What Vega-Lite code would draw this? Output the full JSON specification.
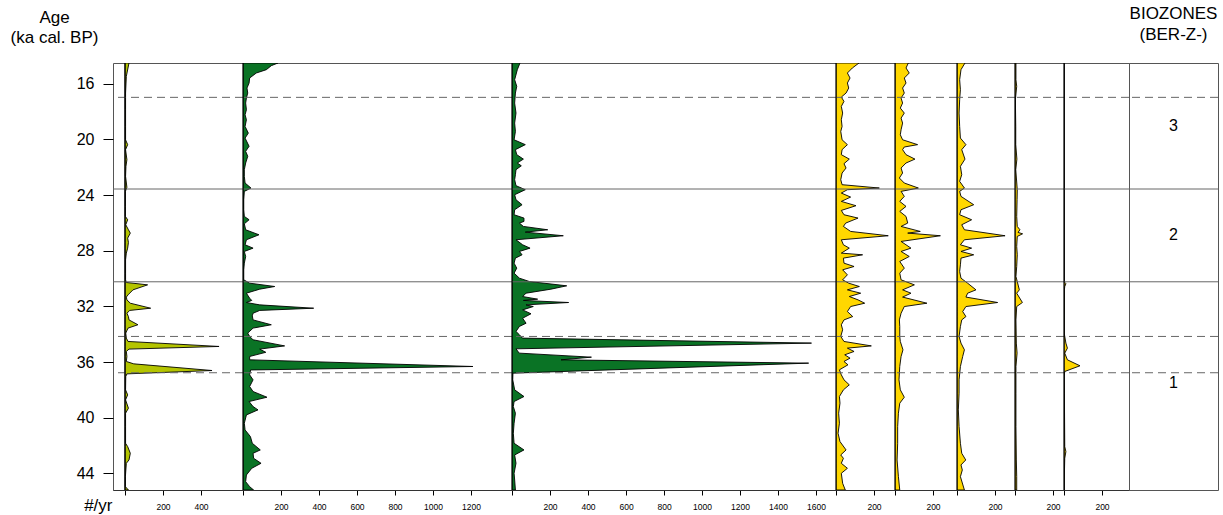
{
 "$schema": "https://vega.github.io/schema/vega-lite/v6.json",
 "padding": {"left": 9, "top": 4, "right": 5, "bottom": 25},
 "background": "white",
 "bounds": "flush",
 "spacing": 0,
 "config": {
  "font": "Liberation Sans",
  "view": {"stroke": "#555", "strokeWidth": 1},
  "axis": {"grid": false, "labelColor": "black", "tickColor": "black", "titleColor": "black", "titleFontWeight": "normal", "labelFont": "Liberation Sans", "titleFont": "Liberation Sans"},
  "title": {"font": "Liberation Sans", "fontWeight": "normal", "color": "black"}
 },
 "resolve": {"scale": {"x": "independent", "y": "independent", "strokeDash": "independent"}},
 "datasets": {
  "zones": [{"age":16.97,"kind":"dashed"},{"age":23.56,"kind":"solid"},{"age":30.23,"kind":"solid"},{"age":34.16,"kind":"dashed"},{"age":36.77,"kind":"dashed"}],
  "bz": [{"age":19.03,"zone":"3"},{"age":26.9,"zone":"2"},{"age":37.5,"zone":"1"}],
  "p1": [{"age":14.5,"v":21},{"age":15.46,"v":7},{"age":16.66,"v":3},{"age":17.86,"v":3},{"age":19.06,"v":3},{"age":20.02,"v":3},{"age":20.37,"v":14},{"age":20.73,"v":3},{"age":21.45,"v":10},{"age":21.93,"v":5},{"age":22.65,"v":3},{"age":23.44,"v":10},{"age":23.73,"v":2},{"age":24.81,"v":2},{"age":25.53,"v":2},{"age":25.77,"v":14},{"age":26.13,"v":4},{"age":26.49,"v":18},{"age":26.73,"v":28},{"age":27.09,"v":14},{"age":27.4,"v":18},{"age":27.81,"v":14},{"age":28.17,"v":7},{"age":28.65,"v":3},{"age":29.61,"v":3},{"age":30.09,"v":3},{"age":30.28,"v":7},{"age":30.45,"v":119},{"age":30.81,"v":42},{"age":31.17,"v":16},{"age":31.33,"v":7},{"age":31.53,"v":10},{"age":31.77,"v":28},{"age":32.13,"v":135},{"age":32.29,"v":25},{"age":32.49,"v":10},{"age":32.73,"v":18},{"age":32.97,"v":21},{"age":33.32,"v":68},{"age":33.56,"v":16},{"age":33.92,"v":4},{"age":34.28,"v":7},{"age":34.52,"v":16},{"age":34.88,"v":495},{"age":35.07,"v":21},{"age":35.24,"v":7},{"age":35.6,"v":10},{"age":35.96,"v":7},{"age":36.13,"v":46},{"age":36.61,"v":458},{"age":36.85,"v":10},{"age":37.04,"v":4},{"age":38.0,"v":3},{"age":38.36,"v":14},{"age":38.72,"v":3},{"age":39.32,"v":18},{"age":39.68,"v":3},{"age":40.64,"v":3},{"age":41.84,"v":3},{"age":42.08,"v":14},{"age":42.56,"v":28},{"age":43.04,"v":21},{"age":43.28,"v":7},{"age":44.24,"v":2},{"age":44.96,"v":2},{"age":45.2,"v":18}],
  "p2": [{"age":14.5,"v":184},{"age":14.69,"v":149},{"age":14.98,"v":123},{"age":15.22,"v":70},{"age":15.58,"v":35},{"age":15.94,"v":32},{"age":16.3,"v":21},{"age":16.66,"v":25},{"age":17.02,"v":18},{"age":17.38,"v":14},{"age":17.86,"v":18},{"age":18.22,"v":11},{"age":18.58,"v":18},{"age":19.06,"v":11},{"age":19.54,"v":28},{"age":19.9,"v":11},{"age":20.49,"v":32},{"age":20.85,"v":14},{"age":21.21,"v":25},{"age":21.69,"v":14},{"age":22.17,"v":7},{"age":22.65,"v":7},{"age":23.13,"v":11},{"age":23.49,"v":42},{"age":23.73,"v":7},{"age":24.33,"v":4},{"age":25.05,"v":4},{"age":25.53,"v":7},{"age":25.77,"v":32},{"age":26.06,"v":7},{"age":26.49,"v":14},{"age":26.85,"v":84},{"age":27.21,"v":18},{"age":27.57,"v":11},{"age":27.81,"v":53},{"age":28.05,"v":7},{"age":28.41,"v":14},{"age":28.89,"v":7},{"age":29.37,"v":4},{"age":30.09,"v":4},{"age":30.33,"v":35},{"age":30.57,"v":167},{"age":30.76,"v":88},{"age":31.05,"v":18},{"age":31.41,"v":35},{"age":31.57,"v":46},{"age":31.72,"v":18},{"age":31.89,"v":88},{"age":32.13,"v":372},{"age":32.29,"v":88},{"age":32.49,"v":53},{"age":32.68,"v":49},{"age":32.97,"v":53},{"age":33.32,"v":149},{"age":33.56,"v":53},{"age":33.92,"v":25},{"age":34.16,"v":35},{"age":34.4,"v":53},{"age":34.84,"v":219},{"age":35.07,"v":88},{"age":35.3,"v":120},{"age":35.6,"v":35},{"age":35.84,"v":35},{"age":36.32,"v":1210},{"age":36.57,"v":40},{"age":36.92,"v":35},{"age":37.28,"v":53},{"age":37.76,"v":35},{"age":38.12,"v":53},{"age":38.53,"v":126},{"age":38.84,"v":32},{"age":39.2,"v":53},{"age":39.44,"v":79},{"age":39.8,"v":18},{"age":40.4,"v":7},{"age":40.88,"v":11},{"age":41.36,"v":39},{"age":41.84,"v":49},{"age":42.32,"v":91},{"age":42.56,"v":53},{"age":42.92,"v":56},{"age":43.28,"v":95},{"age":43.64,"v":46},{"age":44.12,"v":18},{"age":44.6,"v":14},{"age":44.96,"v":35},{"age":45.2,"v":56}],
  "p3": [{"age":14.5,"v":42},{"age":14.98,"v":28},{"age":15.7,"v":14},{"age":16.18,"v":25},{"age":16.66,"v":18},{"age":17.38,"v":14},{"age":18.1,"v":21},{"age":18.82,"v":14},{"age":19.42,"v":18},{"age":20.02,"v":11},{"age":20.37,"v":70},{"age":20.73,"v":18},{"age":21.09,"v":25},{"age":21.41,"v":60},{"age":21.69,"v":28},{"age":21.89,"v":49},{"age":22.17,"v":21},{"age":22.53,"v":18},{"age":22.89,"v":14},{"age":23.32,"v":21},{"age":23.61,"v":70},{"age":23.97,"v":14},{"age":24.33,"v":21},{"age":24.69,"v":53},{"age":25.05,"v":14},{"age":25.41,"v":11},{"age":25.65,"v":63},{"age":25.89,"v":63},{"age":26.01,"v":39},{"age":26.25,"v":60},{"age":26.49,"v":188},{"age":26.66,"v":70},{"age":26.92,"v":270},{"age":27.21,"v":21},{"age":27.57,"v":56},{"age":27.81,"v":95},{"age":28.05,"v":39},{"age":28.29,"v":53},{"age":28.53,"v":18},{"age":28.89,"v":11},{"age":29.25,"v":25},{"age":29.61,"v":11},{"age":29.97,"v":39},{"age":30.21,"v":91},{"age":30.52,"v":288},{"age":30.76,"v":205},{"age":31.05,"v":74},{"age":31.29,"v":56},{"age":31.48,"v":135},{"age":31.57,"v":60},{"age":31.72,"v":298},{"age":31.89,"v":74},{"age":32.01,"v":112},{"age":32.25,"v":56},{"age":32.53,"v":100},{"age":32.85,"v":56},{"age":33.21,"v":74},{"age":33.44,"v":39},{"age":33.8,"v":21},{"age":34.04,"v":39},{"age":34.28,"v":55},{"age":34.64,"v":1576},{"age":35.05,"v":21},{"age":35.36,"v":38},{"age":35.65,"v":418},{"age":35.84,"v":258},{"age":36.08,"v":1561},{"age":36.8,"v":5},{"age":37.28,"v":4},{"age":38.0,"v":14},{"age":38.48,"v":63},{"age":38.84,"v":11},{"age":39.2,"v":7},{"age":39.68,"v":18},{"age":40.4,"v":11},{"age":41.12,"v":7},{"age":41.84,"v":11},{"age":42.32,"v":63},{"age":42.68,"v":14},{"age":43.28,"v":21},{"age":44.0,"v":11},{"age":44.48,"v":14},{"age":45.2,"v":18}],
  "p4": [{"age":14.5,"v":121},{"age":14.86,"v":86},{"age":15.22,"v":60},{"age":15.58,"v":74},{"age":15.94,"v":60},{"age":16.3,"v":67},{"age":16.66,"v":53},{"age":16.95,"v":28},{"age":17.26,"v":42},{"age":17.62,"v":28},{"age":18.1,"v":35},{"age":18.58,"v":28},{"age":19.06,"v":32},{"age":19.42,"v":25},{"age":20.02,"v":32},{"age":20.37,"v":60},{"age":20.73,"v":32},{"age":21.09,"v":28},{"age":21.41,"v":70},{"age":21.74,"v":42},{"age":22.05,"v":53},{"age":22.41,"v":32},{"age":22.89,"v":25},{"age":23.25,"v":32},{"age":23.49,"v":228},{"age":23.61,"v":60},{"age":23.85,"v":28},{"age":24.14,"v":77},{"age":24.45,"v":28},{"age":24.76,"v":105},{"age":25.1,"v":28},{"age":25.41,"v":42},{"age":25.65,"v":116},{"age":26.01,"v":51},{"age":26.25,"v":39},{"age":26.61,"v":77},{"age":26.92,"v":275},{"age":27.21,"v":28},{"age":27.57,"v":39},{"age":27.81,"v":70},{"age":28.17,"v":28},{"age":28.29,"v":140},{"age":28.53,"v":39},{"age":28.89,"v":42},{"age":29.13,"v":95},{"age":29.37,"v":35},{"age":29.73,"v":60},{"age":30.09,"v":35},{"age":30.33,"v":67},{"age":30.57,"v":123},{"age":30.81,"v":60},{"age":31.05,"v":130},{"age":31.29,"v":70},{"age":31.53,"v":116},{"age":31.77,"v":151},{"age":32.01,"v":77},{"age":32.37,"v":60},{"age":32.73,"v":88},{"age":32.97,"v":42},{"age":33.32,"v":28},{"age":33.68,"v":35},{"age":34.16,"v":25},{"age":34.52,"v":42},{"age":34.84,"v":186},{"age":35.0,"v":60},{"age":35.24,"v":95},{"age":35.48,"v":46},{"age":35.72,"v":74},{"age":35.96,"v":42},{"age":36.2,"v":63},{"age":36.56,"v":18},{"age":36.92,"v":28},{"age":37.28,"v":42},{"age":37.64,"v":70},{"age":38.0,"v":39},{"age":38.48,"v":18},{"age":38.96,"v":21},{"age":39.68,"v":14},{"age":40.4,"v":18},{"age":41.12,"v":11},{"age":41.72,"v":21},{"age":42.32,"v":53},{"age":42.68,"v":25},{"age":42.92,"v":39},{"age":43.28,"v":28},{"age":43.64,"v":60},{"age":44.0,"v":28},{"age":44.72,"v":35},{"age":45.2,"v":49}],
  "p5": [{"age":14.5,"v":70},{"age":14.86,"v":58},{"age":15.22,"v":75},{"age":15.58,"v":49},{"age":15.94,"v":58},{"age":16.3,"v":40},{"age":16.66,"v":49},{"age":17.02,"v":32},{"age":17.38,"v":40},{"age":17.74,"v":28},{"age":18.1,"v":49},{"age":18.46,"v":32},{"age":18.82,"v":40},{"age":19.3,"v":32},{"age":19.66,"v":28},{"age":20.02,"v":40},{"age":20.37,"v":119},{"age":20.54,"v":49},{"age":20.73,"v":40},{"age":21.09,"v":58},{"age":21.41,"v":105},{"age":21.69,"v":58},{"age":22.05,"v":32},{"age":22.41,"v":40},{"age":22.77,"v":23},{"age":23.13,"v":49},{"age":23.49,"v":123},{"age":23.73,"v":32},{"age":24.09,"v":49},{"age":24.45,"v":25},{"age":24.81,"v":58},{"age":25.17,"v":25},{"age":25.53,"v":58},{"age":26.01,"v":67},{"age":26.25,"v":32},{"age":26.61,"v":133},{"age":26.73,"v":67},{"age":26.92,"v":239},{"age":27.33,"v":32},{"age":27.81,"v":84},{"age":28.05,"v":32},{"age":28.41,"v":75},{"age":28.77,"v":25},{"age":29.25,"v":49},{"age":29.61,"v":25},{"age":30.09,"v":32},{"age":30.45,"v":102},{"age":30.81,"v":40},{"age":31.05,"v":84},{"age":31.33,"v":40},{"age":31.77,"v":168},{"age":32.01,"v":49},{"age":32.49,"v":32},{"age":32.97,"v":23},{"age":33.44,"v":25},{"age":34.16,"v":25},{"age":34.52,"v":28},{"age":35.12,"v":42},{"age":35.6,"v":32},{"age":36.32,"v":25},{"age":37.28,"v":21},{"age":38.0,"v":28},{"age":38.53,"v":49},{"age":38.96,"v":25},{"age":39.68,"v":18},{"age":40.64,"v":14},{"age":41.84,"v":14},{"age":43.04,"v":11},{"age":44.24,"v":18},{"age":45.2,"v":25}],
  "p6": [{"age":14.5,"v":42},{"age":14.98,"v":21},{"age":15.7,"v":14},{"age":16.42,"v":18},{"age":17.14,"v":14},{"age":18.1,"v":11},{"age":19.06,"v":14},{"age":19.9,"v":18},{"age":20.37,"v":47},{"age":20.73,"v":25},{"age":21.41,"v":42},{"age":21.93,"v":18},{"age":22.53,"v":25},{"age":23.01,"v":14},{"age":23.49,"v":39},{"age":23.73,"v":14},{"age":24.09,"v":21},{"age":24.69,"v":88},{"age":25.05,"v":21},{"age":25.41,"v":14},{"age":25.77,"v":77},{"age":26.13,"v":25},{"age":26.49,"v":39},{"age":26.92,"v":253},{"age":27.21,"v":39},{"age":27.57,"v":18},{"age":27.81,"v":77},{"age":28.05,"v":21},{"age":28.29,"v":88},{"age":28.53,"v":21},{"age":29.01,"v":18},{"age":29.49,"v":14},{"age":29.97,"v":21},{"age":30.33,"v":56},{"age":30.81,"v":100},{"age":31.05,"v":56},{"age":31.33,"v":47},{"age":31.72,"v":214},{"age":32.01,"v":47},{"age":32.37,"v":30},{"age":32.73,"v":47},{"age":32.97,"v":25},{"age":33.44,"v":18},{"age":34.16,"v":11},{"age":34.64,"v":21},{"age":35.12,"v":39},{"age":35.6,"v":30},{"age":36.32,"v":18},{"age":37.28,"v":11},{"age":38.24,"v":11},{"age":39.44,"v":7},{"age":40.64,"v":11},{"age":41.84,"v":18},{"age":42.56,"v":25},{"age":43.04,"v":46},{"age":43.4,"v":21},{"age":43.76,"v":28},{"age":44.24,"v":18},{"age":45.2,"v":39}],
  "p7": [{"age":14.5,"v":5},{"age":15.7,"v":5},{"age":16.18,"v":9},{"age":17.14,"v":2},{"age":19.06,"v":4},{"age":20.37,"v":4},{"age":21.41,"v":10},{"age":22.17,"v":4},{"age":23.61,"v":12},{"age":24.33,"v":11},{"age":25.53,"v":9},{"age":26.25,"v":12},{"age":26.49,"v":26},{"age":26.68,"v":16},{"age":26.78,"v":40},{"age":26.97,"v":12},{"age":27.69,"v":9},{"age":28.29,"v":12},{"age":29.13,"v":9},{"age":29.85,"v":5},{"age":30.81,"v":23},{"age":31.05,"v":9},{"age":31.72,"v":39},{"age":32.01,"v":9},{"age":32.97,"v":5},{"age":34.64,"v":7},{"age":35.36,"v":11},{"age":36.32,"v":5},{"age":38.24,"v":5},{"age":40.64,"v":5},{"age":43.04,"v":7},{"age":44.24,"v":9},{"age":45.2,"v":9}],
  "p8": [{"age":14.5,"v":0},{"age":30.21,"v":0},{"age":30.37,"v":10},{"age":30.57,"v":4},{"age":30.81,"v":2},{"age":33.92,"v":1},{"age":34.64,"v":10},{"age":35.0,"v":18},{"age":35.36,"v":4},{"age":35.84,"v":18},{"age":36.27,"v":84},{"age":36.68,"v":4},{"age":37.04,"v":0},{"age":38.24,"v":2},{"age":42.08,"v":4},{"age":42.44,"v":10},{"age":42.92,"v":4},{"age":45.2,"v":0}]
 },
 "hconcat": [
  {
   "width": 130, "height": 427,
   "layer": [
    {"data": {"name": "p1"}, "mark": {"type": "area", "orient": "horizontal", "fill": "#b4c400", "stroke": "#000", "strokeWidth": 0.9, "clip": true},
     "encoding": {
      "y": {"field": "age", "type": "quantitative", "scale": {"domain": [14.5, 45.2], "reverse": true, "nice": false, "zero": false},
            "axis": {"values": [16,18,20,22,24,26,28,30,32,34,36,38,40,42,44], "labelExpr": "datum.value % 4 == 0 ? datum.label : ''", "tickSize": 10, "labelPadding": 9, "labelFontSize": 16, "domain": false,
                     "title": ["Age", "(ka cal. BP)"], "titleAngle": 0, "titleAlign": "center", "titleBaseline": "bottom", "titleX": -59, "titleY": -37, "titleFontSize": 17, "titleLineHeight": 20}},
      "x": {"field": "v", "type": "quantitative", "scale": {"domain": [-63.2, 621], "nice": false, "zero": false},
            "axis": {"values": [0,100,200,300,400,500], "format": "d", "labelExpr": "datum.value % 200 == 0 && datum.value > 0 ? datum.label : ''", "tickSize": 5, "labelPadding": 7, "labelFontSize": 8.5, "labelFlush": false, "labelOverlap": false, "labelBound": false, "domain": true, "domainColor": "#333",
                     "title": "#/yr", "titleFontSize": 17, "titleAlign": "right", "titleBaseline": "alphabetic", "titleAngle": 0, "titleX": -1, "titleY": 20}},
      "x2": {"datum": 0}
     }},
    {"data": {"name": "zones"}, "mark": {"type": "rule", "stroke": "#666", "strokeWidth": 1},
     "encoding": {"y": {"field": "age", "type": "quantitative", "scale": {"domain": [14.5, 45.2], "reverse": true, "nice": false, "zero": false}},
                  "strokeDash": {"field": "kind", "type": "nominal", "scale": {"domain": ["solid", "dashed"], "range": [[1, 0], [8, 5]]}, "legend": null}}},
    {"data": {"values": [{"b": 0}]}, "mark": {"type": "rule", "stroke": "#000", "strokeWidth": 1.2}, "encoding": {"x": {"datum": 0, "type": "quantitative"}}}
   ]
  },
  {
   "width": 269, "height": 427,
   "layer": [
    {"data": {"name": "p2"}, "mark": {"type": "area", "orient": "horizontal", "fill": "#0a7325", "stroke": "#000", "strokeWidth": 0.9, "clip": true},
     "encoding": {
      "y": {"field": "age", "type": "quantitative", "scale": {"domain": [14.5, 45.2], "reverse": true, "nice": false, "zero": false}, "axis": null},
      "x": {"field": "v", "type": "quantitative", "scale": {"domain": [0, 1415.8], "nice": false, "zero": false},
            "axis": {"values": [0,100,200,300,400,500,600,700,800,900,1000,1100,1200], "format": "d", "labelExpr": "datum.value % 200 == 0 && datum.value > 0 ? datum.label : ''", "tickSize": 5, "labelPadding": 7, "labelFontSize": 8.5, "labelFlush": false, "labelOverlap": false, "labelBound": false, "domain": true, "domainColor": "#333", "title": null}},
      "x2": {"datum": 0}
     }},
    {"data": {"name": "zones"}, "mark": {"type": "rule", "stroke": "#666", "strokeWidth": 1},
     "encoding": {"y": {"field": "age", "type": "quantitative", "scale": {"domain": [14.5, 45.2], "reverse": true, "nice": false, "zero": false}, "axis": null},
                  "strokeDash": {"field": "kind", "type": "nominal", "scale": {"domain": ["solid", "dashed"], "range": [[1, 0], [8, 5]]}, "legend": null}}},
    {"data": {"values": [{"b": 0}]}, "mark": {"type": "rule", "stroke": "#000", "strokeWidth": 1.2}, "encoding": {"x": {"datum": 0, "type": "quantitative"}}}
   ]
  },
  {
   "width": 324, "height": 427,
   "layer": [
    {"data": {"name": "p3"}, "mark": {"type": "area", "orient": "horizontal", "fill": "#0a7325", "stroke": "#000", "strokeWidth": 0.9, "clip": true},
     "encoding": {
      "y": {"field": "age", "type": "quantitative", "scale": {"domain": [14.5, 45.2], "reverse": true, "nice": false, "zero": false}, "axis": null},
      "x": {"field": "v", "type": "quantitative", "scale": {"domain": [0, 1705], "nice": false, "zero": false},
            "axis": {"values": [0,100,200,300,400,500,600,700,800,900,1000,1100,1200,1300,1400,1500,1600], "format": "d", "labelExpr": "datum.value % 200 == 0 && datum.value > 0 ? datum.label : ''", "tickSize": 5, "labelPadding": 7, "labelFontSize": 8.5, "labelFlush": false, "labelOverlap": false, "labelBound": false, "domain": true, "domainColor": "#333", "title": null}},
      "x2": {"datum": 0}
     }},
    {"data": {"name": "zones"}, "mark": {"type": "rule", "stroke": "#666", "strokeWidth": 1},
     "encoding": {"y": {"field": "age", "type": "quantitative", "scale": {"domain": [14.5, 45.2], "reverse": true, "nice": false, "zero": false}, "axis": null},
                  "strokeDash": {"field": "kind", "type": "nominal", "scale": {"domain": ["solid", "dashed"], "range": [[1, 0], [8, 5]]}, "legend": null}}},
    {"data": {"values": [{"b": 0}]}, "mark": {"type": "rule", "stroke": "#000", "strokeWidth": 1.2}, "encoding": {"x": {"datum": 0, "type": "quantitative"}}}
   ]
  },
  {
   "width": 59, "height": 427,
   "layer": [
    {"data": {"name": "p4"}, "mark": {"type": "area", "orient": "horizontal", "fill": "#ffd700", "stroke": "#000", "strokeWidth": 0.9, "clip": true},
     "encoding": {
      "y": {"field": "age", "type": "quantitative", "scale": {"domain": [14.5, 45.2], "reverse": true, "nice": false, "zero": false}, "axis": null},
      "x": {"field": "v", "type": "quantitative", "scale": {"domain": [0, 310.5], "nice": false, "zero": false},
            "axis": {"values": [0,100,200], "format": "d", "labelExpr": "datum.value % 200 == 0 && datum.value > 0 ? datum.label : ''", "tickSize": 5, "labelPadding": 7, "labelFontSize": 8.5, "labelFlush": false, "labelOverlap": false, "labelBound": false, "domain": true, "domainColor": "#333", "title": null}},
      "x2": {"datum": 0}
     }},
    {"data": {"name": "zones"}, "mark": {"type": "rule", "stroke": "#666", "strokeWidth": 1},
     "encoding": {"y": {"field": "age", "type": "quantitative", "scale": {"domain": [14.5, 45.2], "reverse": true, "nice": false, "zero": false}, "axis": null},
                  "strokeDash": {"field": "kind", "type": "nominal", "scale": {"domain": ["solid", "dashed"], "range": [[1, 0], [8, 5]]}, "legend": null}}},
    {"data": {"values": [{"b": 0}]}, "mark": {"type": "rule", "stroke": "#000", "strokeWidth": 1.2}, "encoding": {"x": {"datum": 0, "type": "quantitative"}}}
   ]
  },
  {
   "width": 62, "height": 427,
   "layer": [
    {"data": {"name": "p5"}, "mark": {"type": "area", "orient": "horizontal", "fill": "#ffd700", "stroke": "#000", "strokeWidth": 0.9, "clip": true},
     "encoding": {
      "y": {"field": "age", "type": "quantitative", "scale": {"domain": [14.5, 45.2], "reverse": true, "nice": false, "zero": false}, "axis": null},
      "x": {"field": "v", "type": "quantitative", "scale": {"domain": [0, 326.3], "nice": false, "zero": false},
            "axis": {"values": [0,100,200], "format": "d", "labelExpr": "datum.value % 200 == 0 && datum.value > 0 ? datum.label : ''", "tickSize": 5, "labelPadding": 7, "labelFontSize": 8.5, "labelFlush": false, "labelOverlap": false, "labelBound": false, "domain": true, "domainColor": "#333", "title": null}},
      "x2": {"datum": 0}
     }},
    {"data": {"name": "zones"}, "mark": {"type": "rule", "stroke": "#666", "strokeWidth": 1},
     "encoding": {"y": {"field": "age", "type": "quantitative", "scale": {"domain": [14.5, 45.2], "reverse": true, "nice": false, "zero": false}, "axis": null},
                  "strokeDash": {"field": "kind", "type": "nominal", "scale": {"domain": ["solid", "dashed"], "range": [[1, 0], [8, 5]]}, "legend": null}}},
    {"data": {"values": [{"b": 0}]}, "mark": {"type": "rule", "stroke": "#000", "strokeWidth": 1.2}, "encoding": {"x": {"datum": 0, "type": "quantitative"}}}
   ]
  },
  {
   "width": 58, "height": 427,
   "layer": [
    {"data": {"name": "p6"}, "mark": {"type": "area", "orient": "horizontal", "fill": "#ffd700", "stroke": "#000", "strokeWidth": 0.9, "clip": true},
     "encoding": {
      "y": {"field": "age", "type": "quantitative", "scale": {"domain": [14.5, 45.2], "reverse": true, "nice": false, "zero": false}, "axis": null},
      "x": {"field": "v", "type": "quantitative", "scale": {"domain": [0, 305.3], "nice": false, "zero": false},
            "axis": {"values": [0,100,200], "format": "d", "labelExpr": "datum.value % 200 == 0 && datum.value > 0 ? datum.label : ''", "tickSize": 5, "labelPadding": 7, "labelFontSize": 8.5, "labelFlush": false, "labelOverlap": false, "labelBound": false, "domain": true, "domainColor": "#333", "title": null}},
      "x2": {"datum": 0}
     }},
    {"data": {"name": "zones"}, "mark": {"type": "rule", "stroke": "#666", "strokeWidth": 1},
     "encoding": {"y": {"field": "age", "type": "quantitative", "scale": {"domain": [14.5, 45.2], "reverse": true, "nice": false, "zero": false}, "axis": null},
                  "strokeDash": {"field": "kind", "type": "nominal", "scale": {"domain": ["solid", "dashed"], "range": [[1, 0], [8, 5]]}, "legend": null}}},
    {"data": {"values": [{"b": 0}]}, "mark": {"type": "rule", "stroke": "#000", "strokeWidth": 1.2}, "encoding": {"x": {"datum": 0, "type": "quantitative"}}}
   ]
  },
  {
   "width": 49, "height": 427,
   "layer": [
    {"data": {"name": "p7"}, "mark": {"type": "area", "orient": "horizontal", "fill": "#ffd700", "stroke": "#000", "strokeWidth": 0.9, "clip": true},
     "encoding": {
      "y": {"field": "age", "type": "quantitative", "scale": {"domain": [14.5, 45.2], "reverse": true, "nice": false, "zero": false}, "axis": null},
      "x": {"field": "v", "type": "quantitative", "scale": {"domain": [0, 257.9], "nice": false, "zero": false},
            "axis": {"values": [0,100,200], "format": "d", "labelExpr": "datum.value % 200 == 0 && datum.value > 0 ? datum.label : ''", "tickSize": 5, "labelPadding": 7, "labelFontSize": 8.5, "labelFlush": false, "labelOverlap": false, "labelBound": false, "domain": true, "domainColor": "#333", "title": null}},
      "x2": {"datum": 0}
     }},
    {"data": {"name": "zones"}, "mark": {"type": "rule", "stroke": "#666", "strokeWidth": 1},
     "encoding": {"y": {"field": "age", "type": "quantitative", "scale": {"domain": [14.5, 45.2], "reverse": true, "nice": false, "zero": false}, "axis": null},
                  "strokeDash": {"field": "kind", "type": "nominal", "scale": {"domain": ["solid", "dashed"], "range": [[1, 0], [8, 5]]}, "legend": null}}},
    {"data": {"values": [{"b": 0}]}, "mark": {"type": "rule", "stroke": "#000", "strokeWidth": 1.2}, "encoding": {"x": {"datum": 0, "type": "quantitative"}}}
   ]
  },
  {
   "width": 65, "height": 427,
   "layer": [
    {"data": {"name": "p8"}, "mark": {"type": "area", "orient": "horizontal", "fill": "#ffd700", "stroke": "#000", "strokeWidth": 0.9, "clip": true},
     "encoding": {
      "y": {"field": "age", "type": "quantitative", "scale": {"domain": [14.5, 45.2], "reverse": true, "nice": false, "zero": false}, "axis": null},
      "x": {"field": "v", "type": "quantitative", "scale": {"domain": [0, 342.1], "nice": false, "zero": false},
            "axis": {"values": [0,100,200], "format": "d", "labelExpr": "datum.value % 200 == 0 && datum.value > 0 ? datum.label : ''", "tickSize": 5, "labelPadding": 7, "labelFontSize": 8.5, "labelFlush": false, "labelOverlap": false, "labelBound": false, "domain": true, "domainColor": "#333", "title": null}},
      "x2": {"datum": 0}
     }},
    {"data": {"name": "zones"}, "mark": {"type": "rule", "stroke": "#666", "strokeWidth": 1},
     "encoding": {"y": {"field": "age", "type": "quantitative", "scale": {"domain": [14.5, 45.2], "reverse": true, "nice": false, "zero": false}, "axis": null},
                  "strokeDash": {"field": "kind", "type": "nominal", "scale": {"domain": ["solid", "dashed"], "range": [[1, 0], [8, 5]]}, "legend": null}}},
    {"data": {"values": [{"b": 0}]}, "mark": {"type": "rule", "stroke": "#000", "strokeWidth": 1.2}, "encoding": {"x": {"datum": 0, "type": "quantitative"}}}
   ]
  },
  {
   "width": 89, "height": 427,
   "title": {"text": ["BIOZONES", "(BER-Z-)"], "fontSize": 17, "fontWeight": "normal", "anchor": "middle", "baseline": "bottom", "offset": 2, "lineHeight": 21, "color": "black"},
   "layer": [
    {"data": {"name": "zones"}, "mark": {"type": "rule", "stroke": "#666", "strokeWidth": 1},
     "encoding": {"y": {"field": "age", "type": "quantitative", "scale": {"domain": [14.5, 45.2], "reverse": true, "nice": false, "zero": false}, "axis": null},
                  "strokeDash": {"field": "kind", "type": "nominal", "scale": {"domain": ["solid", "dashed"], "range": [[1, 0], [8, 5]]}, "legend": null}}},
    {"data": {"name": "bz"}, "mark": {"type": "text", "fontSize": 16, "color": "black", "font": "Liberation Sans"},
     "encoding": {"y": {"field": "age", "type": "quantitative", "scale": {"domain": [14.5, 45.2], "reverse": true, "nice": false, "zero": false}, "axis": null},
                  "x": {"datum": 0.5, "type": "quantitative", "scale": {"domain": [0, 1]}, "axis": null},
                  "text": {"field": "zone"}}}
   ]
  }
 ]
}
